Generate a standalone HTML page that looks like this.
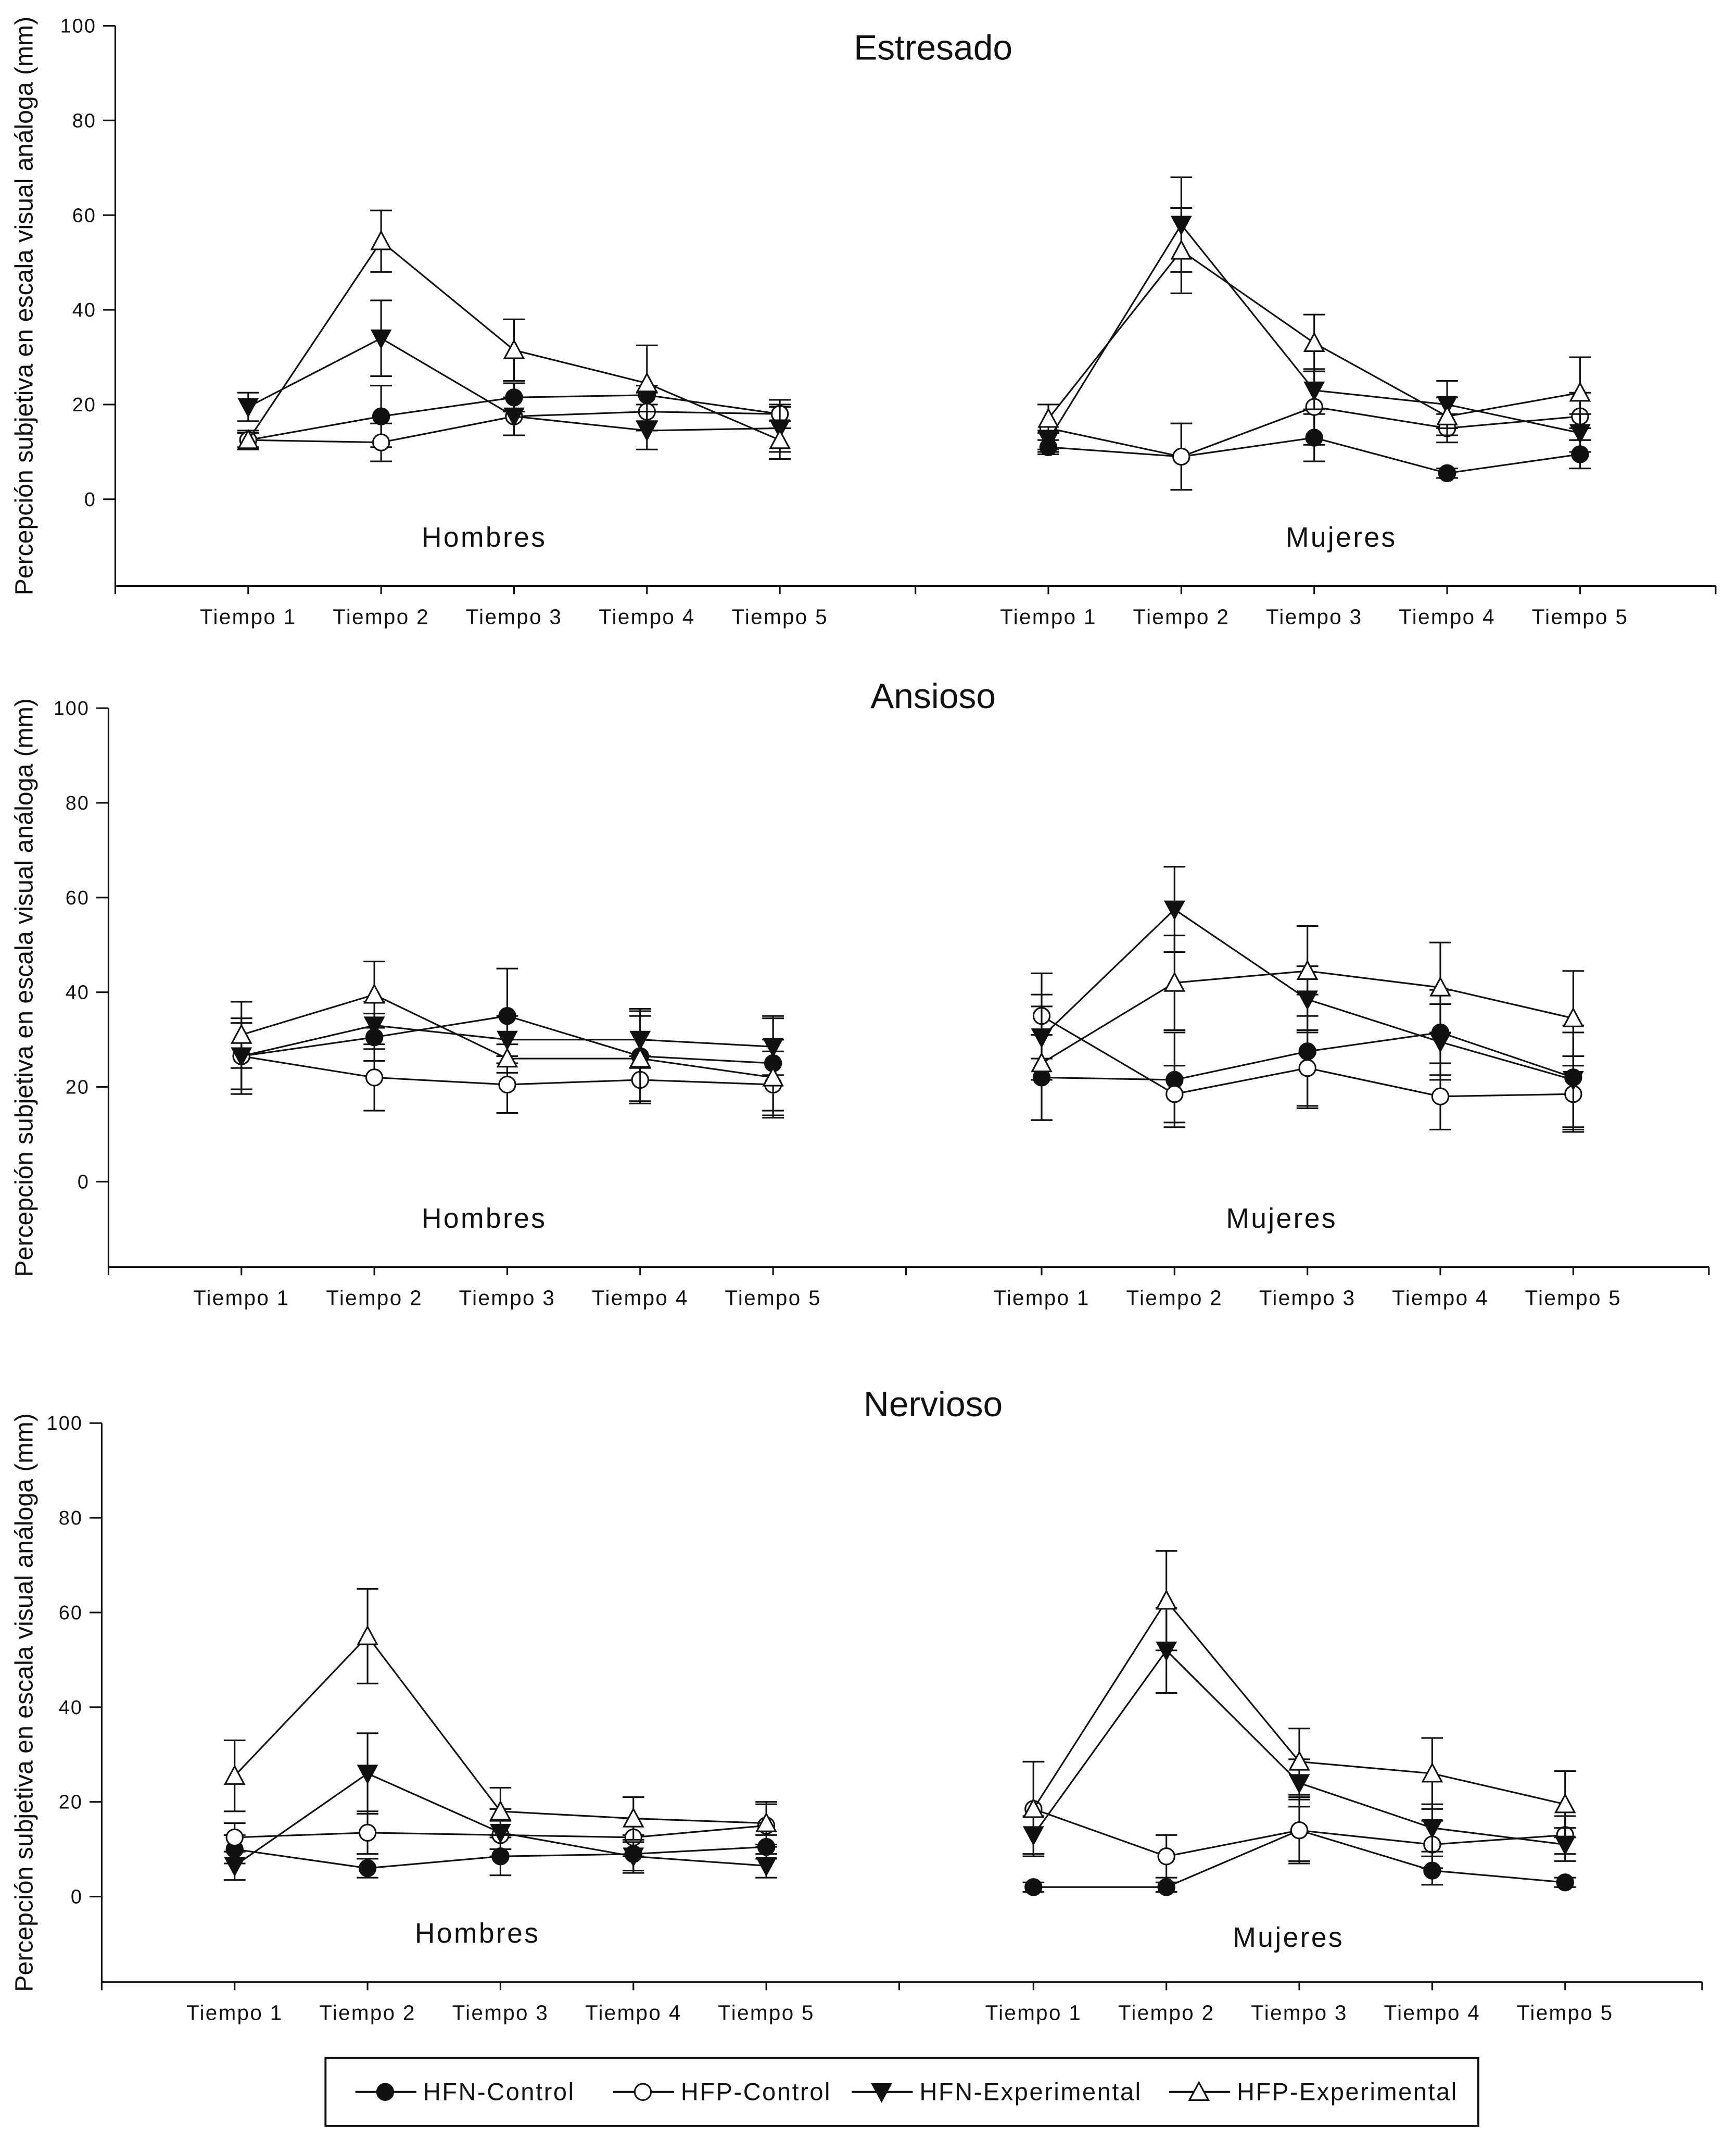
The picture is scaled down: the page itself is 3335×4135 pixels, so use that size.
<!DOCTYPE html>
<html><head><meta charset="utf-8"><style>html,body{margin:0;padding:0;background:#fff}svg{display:block}text{font-family:"Liberation Sans",Arial,sans-serif;fill:#111}</style></head>
<body>
<svg id="chart" width="3335" height="4135" viewBox="0 0 1280 1587" preserveAspectRatio="none" xmlns="http://www.w3.org/2000/svg"></svg>
<script>
const timeLabels = ["Tiempo 1","Tiempo 2","Tiempo 3","Tiempo 4","Tiempo 5"];
const yTicks = [0,20,40,60,80,100];
const seriesNames = ["HFN-Control","HFP-Control","HFN-Experimental","HFP-Experimental"];
const panelTitles = ["Estresado","Ansioso","Nervioso"];
const estH = [[12.5,17.5,21.5,22,18],[12.5,12,17.5,18.5,18],[19.5,34,17.5,14.5,15],[12.5,54.5,31.5,24.5,12.5]];
const estHerr = [[1.5,6.5,3,2,1.5],[2,4,4,4,3],[3,8,4,4,5],[2,6.5,6.5,8,4]];
const estM = [[11,9,13,5.5,9.5],[15,9,19.5,15,17.5],[12.5,58,23,20,14],[17,52.5,33,17.5,22.5]];
const estMerr = [[1.5,7,5,1,3],[5,7,8,3,5],[2,10,4,5,4],[3,9,6,4,7.5]];
const ansH = [[26.5,30.5,35,26.5,25],[26.5,22,20.5,21.5,20.5],[26.5,33,30,30,28.5],[31,39.5,26,26,22]];
const ansHerr = [[7,5,10,10,10],[7,7,6,5,7],[8,5,5,6,6],[7,7,3,9,8]];
const ansM = [[22,21.5,27.5,31.5,22],[35,18.5,24,18,18.5],[30.5,57.5,38.5,29.5,21.5],[25,42,44.5,41,34.5]];
const ansMerr = [[9,10,12,9,11],[9,6,8,7,8],[9,9,7,8,10],[12,10,9.5,9.5,10]];
const nerH = [[10,6,8.5,9,10.5],[12.5,13.5,13,12.5,15],[6.5,26,13.5,8.5,6.5],[25.5,55,18,16.5,15.5]];
const nerHerr = [[3,2,4,4,2.5],[3,4.5,3,4,4.5],[3,8.5,5,3,2.5],[7.5,10,5,4.5,4.5]];
const nerM = [[2,2,14,5.5,3],[18.5,8.5,14,11,13],[13,52,24,14.5,11],[18.5,62.5,28.5,26,19.5]];
const nerMerr = [[1,1,7,3,1],[10,4.5,6.5,5,4],[4,9,5,5,3.5],[10,10.5,7,7.5,7]];

const NS="http://www.w3.org/2000/svg";
const svg=document.getElementById('chart');
function mk(tag,attrs,parent){const e=document.createElementNS(NS,tag);for(const k in attrs)e.setAttribute(k,attrs[k]);(parent||svg).appendChild(e);return e;}

const panels=[
 {ax:85,y0:368,y100:19,bot:432,right:1265,div:675,t:[183,281,379,477,575,773,871,969,1067,1165],title:[688,35],hl:[357,396],ml:[989,396],data:[[estH,estHerr],[estM,estMerr]]},
 {ax:80,y0:871,y100:522,bot:934,right:1260,div:668,t:[178,276,374,472,570,768,866,964,1062,1160],title:[688,513],hl:[357,898],ml:[945,898],data:[[ansH,ansHerr],[ansM,ansMerr]]},
 {ax:75,y0:1398,y100:1049,bot:1461,right:1255,div:663,t:[173,271,369,467,565,762,860,958,1056,1154],title:[688,1035],hl:[352,1425],ml:[950,1428],data:[[nerH,nerHerr],[nerM,nerMerr]]}
];
function marker(g,s,x,y){
 const r=6;let e;
 if(s===0){e=mk('circle',{cx:x,cy:y,r:r,fill:'#111',stroke:'#111','stroke-width':1.2},g);}
 else if(s===1){e=mk('circle',{cx:x,cy:y,r:r,fill:'#fff',stroke:'#111','stroke-width':1.2},g);}
 else if(s===2){e=mk('polygon',{points:`${x-7},${y-6} ${x+7},${y-6} ${x},${y+7}`,fill:'#111',stroke:'#111','stroke-width':1},g);}
 else {e=mk('polygon',{points:`${x-7},${y+6} ${x+7},${y+6} ${x},${y-7}`,fill:'#fff',stroke:'#111','stroke-width':1.2},g);}
 return e;
}
panels.forEach((p,pi)=>{
 const g=mk('g',{});
 
 
 const Y=v=>p.y0-(p.y0-p.y100)*v/100;
 let e=mk('line',{x1:p.ax,y1:p.y100,x2:p.ax,y2:p.bot,stroke:'#111','stroke-width':1.2},g);
 
 e=mk('line',{x1:p.ax,y1:p.bot,x2:p.right,y2:p.bot,stroke:'#111','stroke-width':1.2},g);
 
 yTicks.forEach(v=>{
  mk('line',{x1:p.ax-9,y1:Y(v),x2:p.ax,y2:Y(v),stroke:'#111','stroke-width':1.2},g);
  const t=mk('text',{x:p.ax-14,y:Y(v)+5,'text-anchor':'end','font-size':14.5,'letter-spacing':0.8},g);t.textContent=v;
  
 });
 [p.ax,p.div,p.right].forEach(x=>mk('line',{x1:x,y1:p.bot,x2:x,y2:p.bot+6,stroke:'#111','stroke-width':1.2},g));
 p.t.forEach((x,i)=>{
  mk('line',{x1:x,y1:p.bot,x2:x,y2:p.bot+6,stroke:'#111','stroke-width':1.2},g);
  const t=mk('text',{x:x,y:p.bot+28,'text-anchor':'middle','font-size':15.5,'letter-spacing':0.9},g);t.textContent=timeLabels[i%5];
  
 });
 let t=mk('text',{x:p.title[0],y:p.title[1]+9,'text-anchor':'middle','font-size':26},g);t.textContent=panelTitles[pi];
 
 t=mk('text',{x:p.hl[0],y:p.hl[1]+7,'text-anchor':'middle','font-size':20.5,'letter-spacing':1.3},g);t.textContent='Hombres';
 
 t=mk('text',{x:p.ml[0],y:p.ml[1]+7,'text-anchor':'middle','font-size':20.5,'letter-spacing':1.3},g);t.textContent='Mujeres';
 
 t=mk('text',{x:0,y:0,'text-anchor':'middle','font-size':18.5,transform:`translate(24,${(p.y100+p.bot)/2}) rotate(-90)`},g);
 t.textContent='Percepción subjetiva en escala visual análoga (mm)';
 
 p.data.forEach(([vals,errs],gi)=>{
  const xs=p.t.slice(gi*5,gi*5+5);
  vals.forEach((sv,si)=>{
   const sg=mk('g',{},g);
   
   
   sv.forEach((v,i)=>{
    const x=xs[i],er=errs[si][i];
    mk('line',{x1:x,y1:Y(v+er),x2:x,y2:Y(v-er),stroke:'#111','stroke-width':1.2},sg);
    mk('line',{x1:x-8,y1:Y(v+er),x2:x+8,y2:Y(v+er),stroke:'#111','stroke-width':1.2},sg);
    mk('line',{x1:x-8,y1:Y(v-er),x2:x+8,y2:Y(v-er),stroke:'#111','stroke-width':1.2},sg);
   });
   const pl=mk('polyline',{points:sv.map((v,i)=>xs[i]+','+Y(v)).join(' '),fill:'none',stroke:'#111','stroke-width':1.2},sg);
   
   sv.forEach((v,i)=>{const m=marker(sg,si,xs[i],Y(v));});
  });
 });
});
const lg=mk('g',{});


mk('rect',{x:240,y:1517,width:850,height:50,fill:'#fff',stroke:'#111','stroke-width':1.5},lg);
const starts=[262,452,628,862];
seriesNames.forEach((n,i)=>{
 const x=starts[i],y=1542;
 const eg=mk('g',{},lg);
 
 
 mk('line',{x1:x,y1:y,x2:x+45,y2:y,stroke:'#111','stroke-width':1.5},eg);
 marker(eg,i,x+22,y);
 const t=mk('text',{x:x+50,y:y+6,'font-size':18,'letter-spacing':1},eg);t.textContent=n;
});
</script>
</body></html>
